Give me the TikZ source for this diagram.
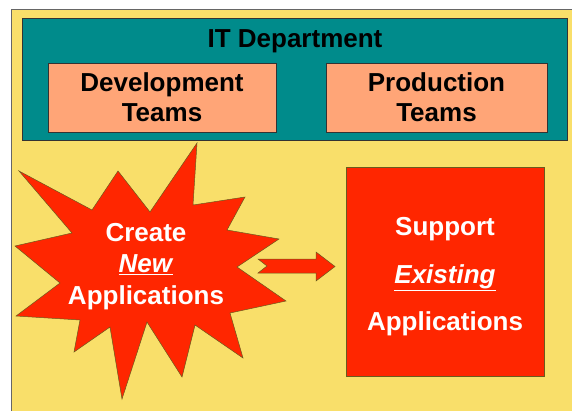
\documentclass[tikz,border=0pt]{standalone}
\usepackage{fontspec}
\setmainfont{Liberation Sans}
\definecolor{slideyellow}{HTML}{F9DF6A}
\definecolor{deptteal}{HTML}{008B8B}
\definecolor{teamsalmon}{HTML}{FFA577}
\definecolor{burstred}{HTML}{FF2600}
\definecolor{edgeolive}{HTML}{6B5A1E}
\tikzset{
  teambox/.style={draw=black!80, fill=teamsalmon, minimum height=69pt, line width=0.6pt},
  redshape/.style={draw=edgeolive, fill=burstred, line width=0.5pt},
  whitetext/.style={text=white, align=center}
}
\begin{document}
\begin{tikzpicture}[x=1pt, y=-1pt, font=\bfseries\fontsize{26}{30}\selectfont, every node/.style={inner sep=0pt, outer sep=0pt, align=center}, line join=miter]
    \useasboundingbox (0,0) rectangle (572,410);
    \fill[white] (0,0) rectangle (572,410);
    \draw[fill=slideyellow, draw=gray!80!black, line width=0.8pt] (11,9) rectangle (580,420);

    \node[draw=black!80, fill=deptteal, minimum width=545pt, minimum height=122pt, line width=0.8pt] (itdept) at (295,79) {};
    \node (itlabel) at (295,41) {IT Department};
    \node[teambox, minimum width=228pt] (devteams) at (162,97.5) {Development\\Teams};
    \node[teambox, minimum width=221pt] (prodteams) at (436.5,97.5) {Production\\Teams};

    % the burst
    \draw[redshape] (197,143) -- (193,205) -- (245,197) -- (227,230) -- (279,239) -- (237,267)
        -- (286,301) -- (230,313) -- (243,358) -- (195,325) -- (182,377) -- (147,322)
        -- (122,399) -- (110,327) -- (74,352) -- (80,320) -- (16,316) -- (60,283)
        -- (15,246) -- (72,233) -- (19,171) -- (92,210) -- (118,171) -- (150,212) -- cycle;
    \node[whitetext, font=\bfseries\fontsize{26}{31.5}\selectfont] (create) at (146,266.5) {Create\\\underline{\textit{New}}\\Applications};

    \node[redshape, minimum width=198pt, minimum height=209pt] (support) at (445,271.5) {};
    \node[whitetext, font=\bfseries\fontsize{26}{47.5}\selectfont] (supportlabel) at ([yshift=-5.5pt]support.center) {Support\\\underline{\textit{Existing}}\\Applications};

    % block arrow
    \draw[redshape] (258,259) -- (316,259) -- (316,252) -- (335,266.5) -- (316,281)
        -- (316,273) -- (258,273) -- (267,266) -- cycle;
\end{tikzpicture}
\end{document}
